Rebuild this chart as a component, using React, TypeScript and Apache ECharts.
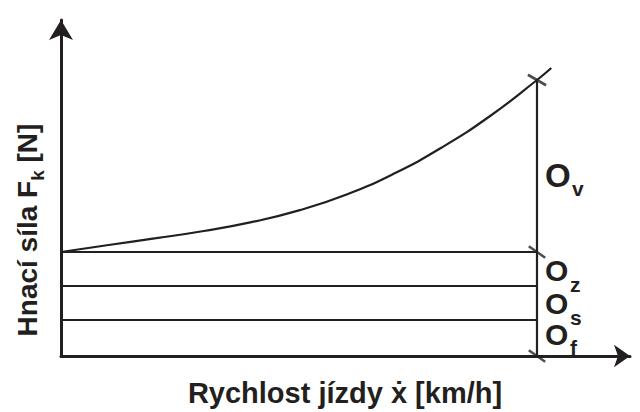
import React, { useEffect, useRef } from "react";
import * as echarts from "echarts";

// Vehicle speed [% of range] and total driving force [N] (tractive force curve)
const speeds = [0, 10, 20, 30, 40, 50, 60, 70, 80, 90, 100, 103];
const drivingForce = [1040, 1110, 1178, 1250, 1338, 1456, 1615, 1825, 2085, 2395, 2760, 2880];
// Stacked resistance levels [N]: O_f, O_s, O_z (cumulative)
const resistanceLevels = [360, 700, 1040];
const endSpeed = 100;
const xAxisTitle = "Rychlost jízdy ẋ [km/h]";
const yAxisTitle = "Hnací síla F";
const yAxisSub = "k";
const yAxisUnit = " [N]";

const INK = "#231f20";
const FONT = "Liberation Sans, Arial, sans-serif";

export default function App() {
  const ref = useRef<HTMLDivElement>(null);
  useEffect(() => {
    if (!ref.current) return;
    const chart = echarts.init(ref.current, null, { renderer: "svg" });
    const lineSeries = (data: number[][]) => ({
      type: "line",
      data,
      showSymbol: false,
      symbol: "none",
      silent: true,
      lineStyle: { color: INK, width: 2.2 },
    });
    const topForce = drivingForce[speeds.indexOf(endSpeed)];
    const label = (text: string, x: number, y: number, size: number, lh: number) => ({
      type: "text",
      x,
      y,
      style: {
        text,
        fontSize: size,
        lineHeight: lh,
        fontWeight: "bold",
        fontFamily: FONT,
        fill: INK,
        verticalAlign: "middle",
      },
    });
    chart.setOption({
      animation: false,
      backgroundColor: "#ffffff",
      grid: { left: 61, right: 10, top: 20, bottom: 56 },
      xAxis: {
        type: "value",
        min: 0,
        max: 119.54,
        axisLine: {
          show: true,
          symbol: ["none", "arrow"],
          symbolSize: [17, 16],
          lineStyle: { color: INK, width: 3 },
        },
        axisTick: { show: false },
        axisLabel: { show: false },
        splitLine: { show: false },
      },
      yAxis: {
        type: "value",
        min: 0,
        max: 3360,
        axisLine: {
          show: true,
          symbol: ["none", "arrow"],
          symbolSize: [18, 20],
          lineStyle: { color: INK, width: 3 },
        },
        axisTick: { show: false },
        axisLabel: { show: false },
        splitLine: { show: false },
      },
      series: [
        {
          ...lineSeries(speeds.map((s, i) => [s, drivingForce[i]])),
          smooth: true,
        },
        ...resistanceLevels.map((lv) => lineSeries([[0, lv], [endSpeed, lv]])),
        lineSeries([[endSpeed, 0], [endSpeed, topForce]]),
        {
          type: "scatter",
          silent: true,
          symbol: "rect",
          symbolSize: [20, 2.5],
          symbolRotate: -35,
          itemStyle: { color: INK },
          data: [[endSpeed, 0], [endSpeed, resistanceLevels[resistanceLevels.length - 1]]],
        },
        {
          type: "scatter",
          silent: true,
          symbol: "rect",
          symbolSize: [21, 2.6],
          symbolRotate: -30,
          itemStyle: { color: INK },
          data: [[endSpeed, topForce]],
        },
      ],
      graphic: [
        {
          type: "text",
          x: 345,
          y: 393,
          style: {
            text: xAxisTitle,
            fontFamily: FONT,
            fontWeight: "bold",
            fontSize: 29,
            fill: INK,
            align: "center",
            verticalAlign: "middle",
          },
        },
        {
          type: "text",
          x: 30,
          y: 230,
          rotation: Math.PI / 2,
          style: {
            text: "{a|" + yAxisTitle + "}{b|" + yAxisSub + "}{a|" + yAxisUnit + "}",
            fontFamily: FONT,
            fill: INK,
            align: "center",
            verticalAlign: "middle",
            rich: {
              a: { fontSize: 28, fontWeight: "bold", lineHeight: 34, fill: INK, fontFamily: FONT, verticalAlign: "top" },
              b: { fontSize: 19, fontWeight: "bold", lineHeight: 19, fill: INK, fontFamily: FONT, verticalAlign: "bottom" },
            },
          },
        },
        label("O", 545, 175, 33, 28),
        label("v", 572, 188, 21, 15),
        label("O", 545, 270, 30, 25),
        label("z", 570, 284, 21, 14),
        label("O", 545, 303, 30, 25),
        label("s", 570, 317, 21, 14),
        label("O", 545, 334, 30, 25),
        label("f", 570, 347, 21, 14),
      ],
    });
    return () => chart.dispose();
  }, []);
  return <div ref={ref} style={{ width: 640, height: 412, position: "absolute", left: 0, top: 0 }} />;
}
